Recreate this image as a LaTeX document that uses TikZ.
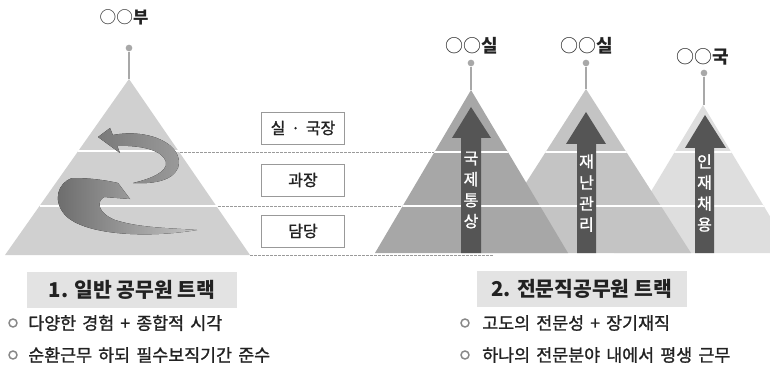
\documentclass[tikz,border=0pt]{standalone}
\usepackage{fontspec}
\setmainfont{Noto Sans CJK KR}
\newfontfamily\krmed[FakeBold=1.2,WordSpace=1.6]{Noto Sans CJK KR}
\definecolor{pyrL}{HTML}{D0D0D0}
\definecolor{pyrA}{HTML}{A7A7A7}
\definecolor{pyrB}{HTML}{C4C4C4}
\definecolor{pyrC}{HTML}{DEDEDE}
\definecolor{arrowc}{HTML}{555555}
\definecolor{pinc}{HTML}{A8A8A8}
\definecolor{dashc}{HTML}{9A9A9A}
\definecolor{titlebg}{HTML}{E3E3E3}
\definecolor{txt}{HTML}{222222}
\definecolor{boxc}{HTML}{999999}
\definecolor{ringc}{HTML}{888888}
\definecolor{cvA}{HTML}{7A7A7A}
\definecolor{cvB}{HTML}{9C9C9C}
\definecolor{cvC}{HTML}{6A6A6A}
\definecolor{cvD}{HTML}{C4C4C4}
\begin{document}
\begin{tikzpicture}[x=0.75pt,y=-0.75pt,
  pin/.style={draw=pinc,line width=1pt},
  pinhead/.style={fill=pinc,circle,inner sep=0pt,minimum size=5pt},
  toplabel/.style={font=\fontsize{13.5}{15}\selectfont,text=txt,inner sep=0pt},
  levelbox/.style={draw=boxc,fill=white,line width=0.6pt,minimum width=62pt,minimum height=24pt,inner sep=0pt,font=\krmed\fontsize{12}{14}\selectfont,text=txt},
  sep/.style={draw=white,line width=1pt},
  dashline/.style={draw=dashc,line width=0.6pt,dash pattern=on 2pt off 1pt},
  vtext/.style={text=white,align=center,font=\krmed\fontsize{12}{15.75}\selectfont,inner sep=0pt},
  titlebox/.style={fill=titlebg,minimum width=157.5pt,minimum height=27pt,inner sep=0pt,font=\bfseries\fontsize{15.3}{17}\selectfont,text=txt},
  bullettext/.style={anchor=west,inner sep=0pt,font=\krmed\fontsize{13}{15}\selectfont,text=txt},
  ring/.style={draw=ringc,line width=1.1pt,circle,inner sep=0pt,minimum size=6pt}
]
\useasboundingbox (0,0) rectangle (770,374);

% ---------- left pyramid ----------
\fill[pyrL] (129,79) -- (250,255) -- (5,255) -- cycle;
\draw[sep] (78,151) -- (180,151);
\draw[sep] (40,206) -- (217,206);
\coordinate (LA) at (129,79);
\node[pinhead] (LP) at (129,48) {};
\draw[pin] (LP) -- (LA);
\node[toplabel,font=\fontsize{12.5}{14}\selectfont] (LT) at (124,17) {○○\textbf{부}};

% curved arrows
\fill[left color=cvA,right color=cvB]
  (112.8,135) .. controls (150,128) and (185,145) .. (178,168)
  .. controls (172,182) and (150,184) .. (133,183)
  .. controls (150,179) and (168,172) .. (166,162)
  .. controls (163,150) and (140,145) .. (117.2,146)
  -- (120,153) -- (98,137) -- (110,128) -- cycle;
\fill[left color=cvC,right color=cvD]
  (197,230) .. controls (150,238) and (85,236) .. (65,215)
  .. controls (52,200) and (58,183) .. (72,178)
  .. controls (90,178) and (105,180) .. (118,183)
  -- (130,199) -- (104,197)
  .. controls (96,202) and (98,213) .. (115,220)
  .. controls (140,228) and (170,228) .. (197,230) -- cycle;

% level boxes
\node[levelbox] (B1) at (303,128) {실 · 국장};
\node[levelbox] (B2) at (303,180) {과장};
\node[levelbox] (B3) at (303,231) {담당};

% dashed lines
\draw[dashline] (180,152) -- (434,152);
\draw[dashline] (218,206) -- (403,206);
\draw[dashline] (250,255) -- (493,255);

% ---------- right pyramids ----------
\fill[pyrC] (703,105) -- (792,253) -- (614,253) -- cycle;
\fill[pyrB] (586,89) -- (691,253) -- (481,253) -- cycle;
\fill[pyrA] (471,90) -- (568,253) -- (375,253) -- cycle;
\begin{scope}
\clip (703,105) -- (792,253) -- (614,253) -- cycle;
\draw[sep] (600,152) -- (770,152);
\draw[sep] (600,206) -- (770,206);
\end{scope}
\begin{scope}
\clip (586,89) -- (691,253) -- (481,253) -- cycle;
\draw[sep] (470,152) -- (700,152);
\draw[sep] (470,206) -- (700,206);
\end{scope}
\begin{scope}
\clip (471,90) -- (568,253) -- (375,253) -- cycle;
\draw[sep] (370,152) -- (570,152);
\draw[sep] (370,206) -- (570,206);
\end{scope}

% pins and labels
\coordinate (AA) at (471,90);
\coordinate (BA) at (586,89);
\coordinate (CA) at (704,105);
\node[pinhead] (AP) at (471,63) {};
\node[pinhead] (BP) at (586,63) {};
\node[pinhead] (CP) at (704,73) {};
\draw[pin] (AP) -- (AA);
\draw[pin] (BP) -- (BA);
\draw[pin] (CP) -- (CA);
\node[toplabel] (AT) at (472,46) {○○\textbf{실}};
\node[toplabel] (BT) at (587,46) {○○\textbf{실}};
\node[toplabel] (CT) at (703,57) {○○\textbf{국}};

% vertical arrows
\fill[arrowc] (461,253) -- (461,138) -- (452,138) -- (471,107) -- (491,138) -- (481,138) -- (481,253) -- cycle;
\fill[arrowc] (577,253) -- (577,144) -- (566,144) -- (586,112) -- (606,144) -- (596,144) -- (596,253) -- cycle;
\fill[arrowc] (695,253) -- (695,148) -- (685,148) -- (705,115) -- (726,148) -- (714,148) -- (714,253) -- cycle;
\node[vtext] (AV) at (471,190) {국\\제\\통\\상};
\node[vtext] (BV) at (586.5,193) {재\\난\\관\\리};
\node[vtext] (CV) at (704.5,193) {인\\재\\채\\용};

% ---------- bottom texts ----------
\node[titlebox] (T1) at (132,290) {1. 일반 공무원 트랙};
\node[titlebox] (T2) at (581.5,288.5) {2. 전문직공무원 트랙};

\node[ring] (R1) at (13,323) {};
\node[ring] (R2) at (13,355) {};
\node[bullettext] (L1) at (28,323) {다양한 경험 + 종합적 시각};
\node[bullettext] (L2) at (28,355) {순환근무 하되 필수보직기간 준수};
\node[ring] (R3) at (465,323) {};
\node[ring] (R4) at (465,355) {};
\node[bullettext] (L3) at (482,323) {고도의 전문성 + 장기재직};
\node[bullettext] (L4) at (482,355) {하나의 전문분야 내에서 평생 근무};
\end{tikzpicture}
\end{document}
